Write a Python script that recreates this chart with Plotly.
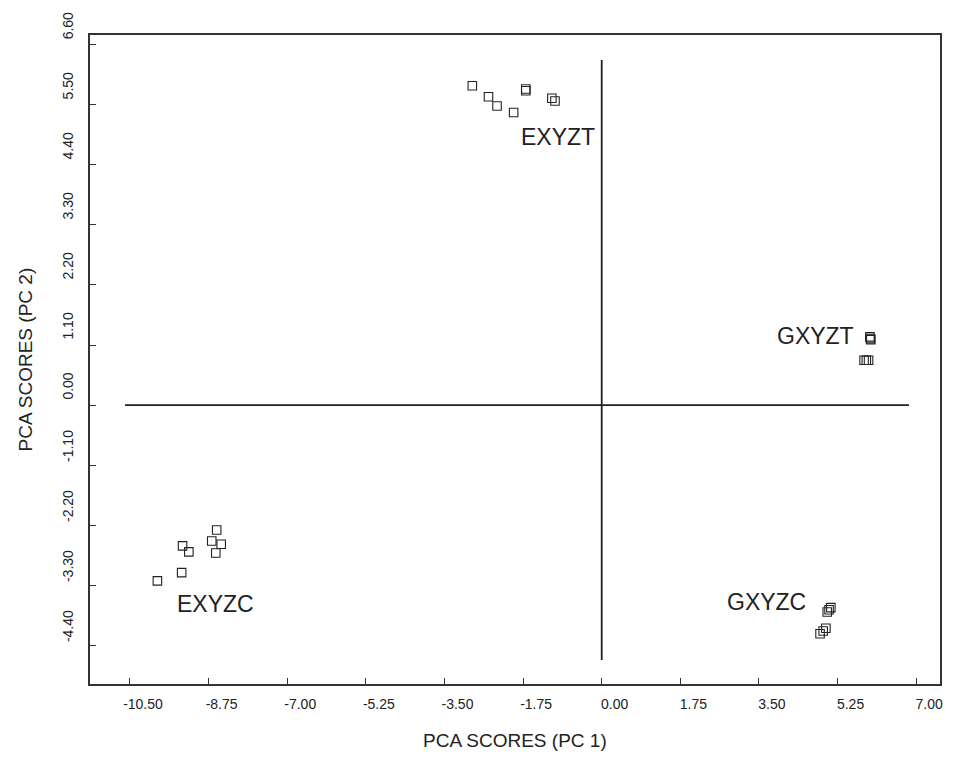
import plotly.graph_objects as go

# Group scores (PC1, PC2)
exyzt_pc1 = [-2.88, -2.52, -2.33, -1.96, -1.69, -1.69, -1.11, -1.04]
exyzt_pc2 = [5.85, 5.65, 5.48, 5.36, 5.79, 5.76, 5.62, 5.57]

exyzc_pc1 = [-8.57, -8.68, -8.47, -8.59, -9.33, -9.19, -9.35, -9.89]
exyzc_pc2 = [-2.29, -2.49, -2.55, -2.71, -2.58, -2.69, -3.07, -3.22]

gxyzt_pc1 = [5.97, 5.98, 5.99, 5.84, 5.89, 5.94]
gxyzt_pc2 = [1.25, 1.22, 1.20, 0.82, 0.82, 0.82]

gxyzc_pc1 = [5.02, 5.06, 5.10, 4.86, 4.93, 4.99]
gxyzc_pc2 = [-3.79, -3.75, -3.71, -4.19, -4.14, -4.09]

group_names = ["EXYZT", "EXYZC", "GXYZT", "GXYZC"]
label_pc1 = [-1.83, -9.49, 3.85, 2.74]
label_pc2 = [4.92, -3.65, 1.26, -3.61]

x_ticks = [-10.50, -8.75, -7.00, -5.25, -3.50, -1.75, 0.00, 1.75, 3.50, 5.25, 7.00]
y_ticks = [6.60, 5.50, 4.40, 3.30, 2.20, 1.10, 0.00, -1.10, -2.20, -3.30, -4.40]

x_range = [-11.39, 7.53]
y_range = [-5.11, 6.78]
hline_x = [-10.61, 6.84]
vline_y = [-4.67, 6.32]

tick_font = dict(family="Liberation Sans Narrow, Arial Narrow, Liberation Sans, Arial", size=14, color="#222")

fig = go.Figure()
for xs, ys in [(exyzt_pc1, exyzt_pc2), (exyzc_pc1, exyzc_pc2),
               (gxyzt_pc1, gxyzt_pc2), (gxyzc_pc1, gxyzc_pc2)]:
    fig.add_trace(go.Scatter(
        x=xs, y=ys, mode="markers",
        marker=dict(symbol="square-open", size=8.5, color="#222", line=dict(width=1.1, color="#222")),
        showlegend=False, hoverinfo="x+y"))

# reference axes through origin
fig.add_trace(go.Scatter(x=hline_x, y=[0, 0], mode="lines",
                         line=dict(color="#222", width=1.8), showlegend=False, hoverinfo="skip"))
fig.add_trace(go.Scatter(x=[0, 0], y=vline_y, mode="lines",
                         line=dict(color="#222", width=1.8), showlegend=False, hoverinfo="skip"))

annotations = []
for name, lx, ly in zip(group_names, label_pc1, label_pc2):
    annotations.append(dict(x=lx, y=ly, xref="x", yref="y", text=name, showarrow=False,
                            xanchor="left", yanchor="middle",
                            font=dict(family="Liberation Sans, Arial", size=23, color="#222")))

annotations.append(dict(x=0.5, y=0, xref="paper", yref="paper", text="PCA SCORES (PC 1)",
                        showarrow=False, xanchor="center", yanchor="middle", yshift=-56,
                        font=dict(family="Liberation Sans, Arial", size=19, color="#222")))
annotations.append(dict(x=0, y=0.5, xref="paper", yref="paper", text="PCA SCORES (PC 2)",
                        showarrow=False, xanchor="center", yanchor="middle", xshift=-65,
                        textangle=-90,
                        font=dict(family="Liberation Sans, Arial", size=19, color="#222")))

fig.update_layout(
    width=954, height=761,
    margin=dict(l=90, r=11, t=35, b=77),
    paper_bgcolor="white", plot_bgcolor="white",
    annotations=annotations,
    xaxis=dict(range=x_range, tickvals=x_ticks, ticktext=[f"{v:.2f}" for v in x_ticks],
               showgrid=False, zeroline=False, showline=True, mirror=True,
               linecolor="#333", linewidth=1.5, ticks="inside", ticklen=6, tickcolor="#333",
               tickwidth=1.3, tickfont=tick_font, ticklabelshift=13, ticklabelstandoff=6),
    yaxis=dict(range=y_range, tickvals=y_ticks, ticktext=[f"{v:.2f}" for v in y_ticks],
               showgrid=False, zeroline=False, showline=True, mirror=True,
               linecolor="#333", linewidth=1.5, ticks="inside", ticklen=6, tickcolor="#333",
               tickwidth=1.3, tickfont=tick_font, tickangle=-90, ticklabelshift=-17,
               ticklabelstandoff=10),
)

fig.write_html("out.html", config={"displayModeBar": False},
               post_script="document.body.style.margin='0';")
